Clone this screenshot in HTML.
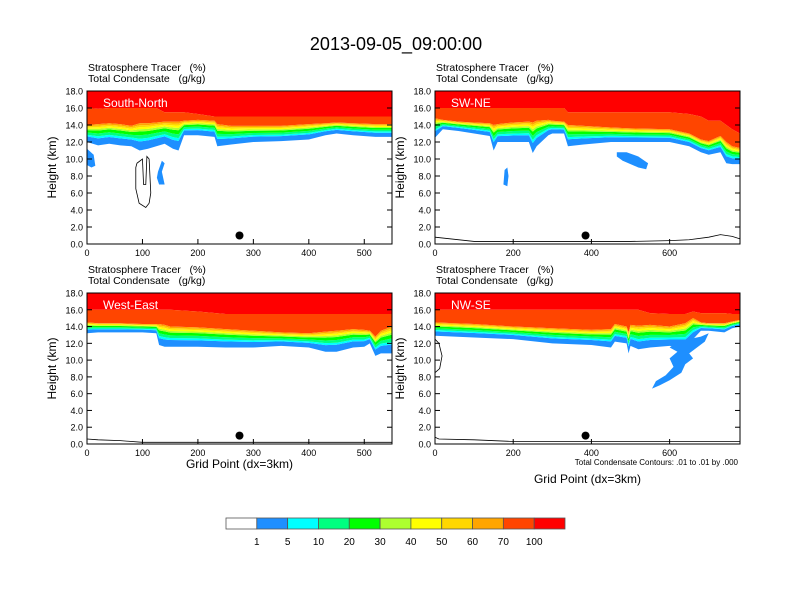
<!DOCTYPE html>
<html><head><meta charset="utf-8">
<style>
body{margin:0;background:#fff;}
svg{display:block;font-family:"Liberation Sans",sans-serif;}
text{white-space:pre;}
</style></head>
<body>
<svg id="c" width="792" height="612" viewBox="0 0 792 612"></svg>
<script>
const colors=["#ffffff","#1e8fff","#00ffff","#00ff80","#00ff00","#adff2f","#ffff00","#ffd700","#ffa500","#ff4500","#ff0000"];
const levels=["1","5","10","20","30","40","50","60","70","100"];
const yTicks=[0,2,4,6,8,10,12,14,16,18];
// panel 1 South-North
const p1X=[0,20,40,60,80,95,110,125,140,155,165,175,200,230,235,260,300,350,400,430,450,480,520,550];
const p1Base=[12.0,11.6,11.8,11.6,11.5,11.0,11.2,11.5,11.8,11.2,11.0,12.8,12.8,12.6,11.5,11.7,12.0,12.1,12.3,12.8,13.0,12.8,12.6,12.6];
const p1Top=[14.0,14.1,14.2,14.1,13.9,14.2,14.2,14.3,14.4,14.4,14.4,14.5,14.6,14.5,14.1,13.9,13.9,13.9,14.1,14.2,14.3,14.2,14.1,14.1];
const p1Red=[16.0,15.9,16.0,16.0,16.0,16.0,16.0,16.0,15.5,15.5,15.5,15.5,15.3,15.0,15.0,15.0,15.0,15.0,15.0,15.0,15.0,15.0,15.0,15.0];
// panel 2 SW-NE
const p2X=[0,20,60,100,140,150,160,200,240,250,260,290,300,330,340,380,450,500,600,650,680,700,730,745,760,780];
const p2Base=[12.5,13.5,13.3,13.0,12.7,11.0,12.0,12.0,12.0,10.7,11.5,12.8,13.0,13.0,11.5,11.7,12.0,12.0,12.0,11.5,10.8,10.5,10.8,9.5,9.4,9.4];
const p2Top=[14.8,14.6,14.4,14.3,14.2,14.0,14.1,14.3,14.4,14.3,14.5,14.6,14.5,14.4,14.0,13.9,13.7,13.6,13.5,13.0,12.3,12.1,12.7,12.0,11.5,11.3];
const p2Red=[16.0,16.0,16.0,16.0,16.0,16.0,16.0,16.0,16.0,16.0,16.0,16.0,16.0,16.0,15.5,15.5,15.5,15.5,15.5,15.3,15.0,14.5,14.5,14.0,13.5,13.0];
// panel 3 West-East
const p3X=[0,20,60,100,125,130,140,150,200,250,300,350,400,430,450,480,500,510,520,530,550];
const p3Base=[13.2,13.3,13.3,13.3,13.2,11.8,11.6,11.6,11.6,11.5,11.5,11.7,11.5,11.0,11.0,11.5,11.6,12.0,10.5,10.8,10.8];
const p3Top=[14.5,14.4,14.4,14.3,14.3,14.3,14.2,14.0,13.9,13.7,13.5,13.3,13.2,13.4,13.5,13.7,13.6,13.5,12.8,13.5,14.0];
const p3Red=[16.0,16.0,16.0,16.0,16.0,16.0,16.0,16.0,15.8,15.5,15.5,15.5,15.5,15.5,15.5,15.5,15.5,15.5,15.5,15.5,15.5];
// panel 4 NW-SE
const p4X=[0,50,100,200,300,400,450,460,490,495,500,520,550,600,640,660,680,700,740,760,780];
const p4Base=[12.9,12.8,12.7,12.5,12.0,11.8,11.5,12.2,12.0,10.8,11.7,11.3,11.5,11.7,11.5,12.5,13.5,13.5,13.3,13.8,14.0];
const p4Top=[14.5,14.4,14.3,14.0,13.8,13.6,13.7,14.3,14.0,13.3,14.2,14.1,14.2,14.0,14.4,15.0,14.5,14.4,14.4,14.6,14.8];
const p4Red=[16.0,16.0,16.0,16.0,16.0,16.0,16.0,16.0,16.0,16.0,16.0,16.0,15.6,15.5,15.5,15.8,15.6,15.6,15.6,15.5,15.5];
// blue cloud blobs [x-grid, km]
const p1Blob1=[[0,11.2],[12,10.5],[15,9.2],[8,9.0],[0,9.3]];
const p1Blob2=[[128,8.5],[135,9.8],[140,9.5],[135,8.5],[140,7.0],[130,7.0],[126,7.8]];
const p2Blob1=[[175,7.0],[178,8.7],[185,9.0],[188,8.0],[185,6.8]];
const p2Blob2=[[465,10.8],[490,10.8],[520,10.3],[545,9.5],[540,8.8],[520,9.0],[480,9.8],[465,10.3]];
const p4Blob=[[555,6.6],[565,7.5],[590,8.2],[610,9.2],[600,10.2],[620,11.0],[600,11.5],[620,12.2],[680,12.8],[700,13.2],[690,12.2],[670,11.5],[650,10.8],[660,10.2],[640,9.5],[630,8.5],[600,7.6],[575,7.0]];
// condensate contours
const p1Cont=[[90,9.5],[100,10.0],[102,7.0],[106,7.0],[108,10.3],[112,10.0],[115,6.0],[112,4.8],[106,4.3],[94,4.8],[88,6.5],[88,9.0],[90,9.5]];
const p4Cont=[[0,12.5],[10,12.0],[18,10.5],[12,9.0],[0,8.5]];
// terrain outlines
const p2Terr=[[0,0.8],[100,0.3],[300,0.3],[500,0.3],[600,0.4],[650,0.5],[700,0.8],[730,1.1],[760,0.9],[780,0.6]];
const p3Terr=[[0,0.6],[20,0.5],[60,0.4],[100,0.2],[550,0.2]];
const p4Terr=[[0,0.8],[10,0.6],[100,0.5],[200,0.3],[780,0.3]];

const NS="http://www.w3.org/2000/svg";
const svg=document.getElementById('c');
function mk(tag,attrs,parent){const e=document.createElementNS(NS,tag);for(const k in attrs)e.setAttribute(k,attrs[k]);(parent||svg).appendChild(e);return e;}

const fr=[0,0.33,0.43,0.56,0.7,0.78,0.86,0.93,1.0];
function panel(id,box,xmax,xticks,X,B,T,R,label,blobs,conts,showXTitle){
  const g=mk('g',{});
  
  
  const sx=v=>box.x0+(v/xmax)*(box.x1-box.x0);
  const sy=v=>box.y1-(v/18)*(box.y1-box.y0);
  const curve=f=>X.map((x,i)=>[sx(x),sy(f(i))]);
  const band=(lo,hi,col,name)=>{
    const a=curve(lo),b=curve(hi).reverse();
    const p=mk('polygon',{points:a.concat(b).map(p=>p.join(',')).join(' '),fill:col},g);
    
    
  };
  band(i=>R[i],()=>18,colors[10],'band-100');
  band(i=>T[i],i=>R[i],colors[9],'band-70-100');
  for(let k=0;k<8;k++){
    band(i=>B[i]+fr[k]*(T[i]-B[i]),i=>B[i]+fr[k+1]*(T[i]-B[i]),colors[k+1],'band-'+levels[k]);
  }
  blobs.forEach(bl=>{
    const p=mk('polygon',{points:bl.map(q=>sx(q[0])+','+sy(q[1])).join(' '),fill:colors[1]},g);
    
    
  });
  conts.forEach(c=>{
    const p=mk('polyline',{points:c.map(q=>sx(q[0])+','+sy(q[1])).join(' '),fill:'none',stroke:'#000','stroke-width':0.8},g);
    
    
  });
  const dot=mk('circle',{cx:sx(xmax===550?275:385),cy:sy(1.0),r:4,fill:'#000'},g);
  
  
  const fr0=mk('rect',{x:box.x0,y:box.y0,width:box.x1-box.x0,height:box.y1-box.y0,fill:'none',stroke:'#000','stroke-width':1},g);
  
  
  yTicks.forEach(v=>{
    mk('line',{x1:box.x0,x2:box.x0+5,y1:sy(v),y2:sy(v),stroke:'#000'},g);
    mk('line',{x1:box.x1,x2:box.x1-5,y1:sy(v),y2:sy(v),stroke:'#000'},g);
    const t=mk('text',{x:box.x0-4,y:sy(v)+3.5,'font-size':9,'text-anchor':'end'},g);
    t.textContent=v.toFixed(1);
    
    
  });
  xticks.forEach(v=>{
    mk('line',{x1:sx(v),x2:sx(v),y1:box.y1,y2:box.y1-5,stroke:'#000'},g);
    const t=mk('text',{x:sx(v),y:box.y1+12,'font-size':9,'text-anchor':'middle'},g);
    t.textContent=v;
    
    
  });
  const yt=mk('text',{x:0,y:0,'font-size':12,'text-anchor':'middle',transform:`translate(${box.x0-31},${(box.y0+box.y1)/2}) rotate(-90)`},g);
  yt.textContent='Height (km)';
  
  
  const l1=mk('text',{x:box.x0+1,y:box.y0-20,'font-size':10.5,'xml:space':'preserve'},g);
  l1.textContent='Stratosphere Tracer   (%)';
  
  
  const l2=mk('text',{x:box.x0+1,y:box.y0-9,'font-size':10.5,'xml:space':'preserve'},g);
  l2.textContent='Total Condensate   (g/kg)';
  
  
  const pl=mk('text',{x:box.x0+16,y:box.y0+16,'font-size':12,fill:'#fff'},g);
  pl.textContent=label;
  
  
  if(showXTitle){
    const xt=mk('text',{x:(box.x0+box.x1)/2,y:showXTitle,'font-size':12,'text-anchor':'middle'},g);
    xt.textContent='Grid Point (dx=3km)';
    
    
  }
}
const t=mk('text',{x:396,y:50,'font-size':18,'text-anchor':'middle'});
t.textContent='2013-09-05_09:00:00';



panel('panel-south-north',{x0:87,x1:392,y0:91,y1:244},550,[0,100,200,300,400,500],p1X,p1Base,p1Top,p1Red,'South-North',[p1Blob1,p1Blob2],[p1Cont],0);
panel('panel-sw-ne',{x0:435,x1:740,y0:91,y1:244},780,[0,200,400,600],p2X,p2Base,p2Top,p2Red,'SW-NE',[p2Blob1,p2Blob2],[p2Terr],0);
panel('panel-west-east',{x0:87,x1:392,y0:293,y1:444},550,[0,100,200,300,400,500],p3X,p3Base,p3Top,p3Red,'West-East',[],[p3Terr],468);
panel('panel-nw-se',{x0:435,x1:740,y0:293,y1:444},780,[0,200,400,600],p4X,p4Base,p4Top,p4Red,'NW-SE',[p4Blob],[p4Cont,p4Terr],483);
const note=mk('text',{x:738,y:465,'font-size':8,'text-anchor':'end'});
note.textContent='Total Condensate Contours: .01 to .01 by .000';



// colorbar
const cb=mk('g',{});


const cx0=226,cx1=565,cw=(cx1-cx0)/colors.length;
colors.forEach((c,i)=>{
  const r=mk('rect',{x:cx0+i*cw,y:518,width:cw,height:11,fill:c,stroke:'#555','stroke-width':0.8},cb);
  
  
});
levels.forEach((l,i)=>{
  const tx=mk('text',{x:cx0+(i+1)*cw,y:545,'font-size':10,'text-anchor':'middle'},cb);
  tx.textContent=l;
  
  
});
</script>
</body></html>
